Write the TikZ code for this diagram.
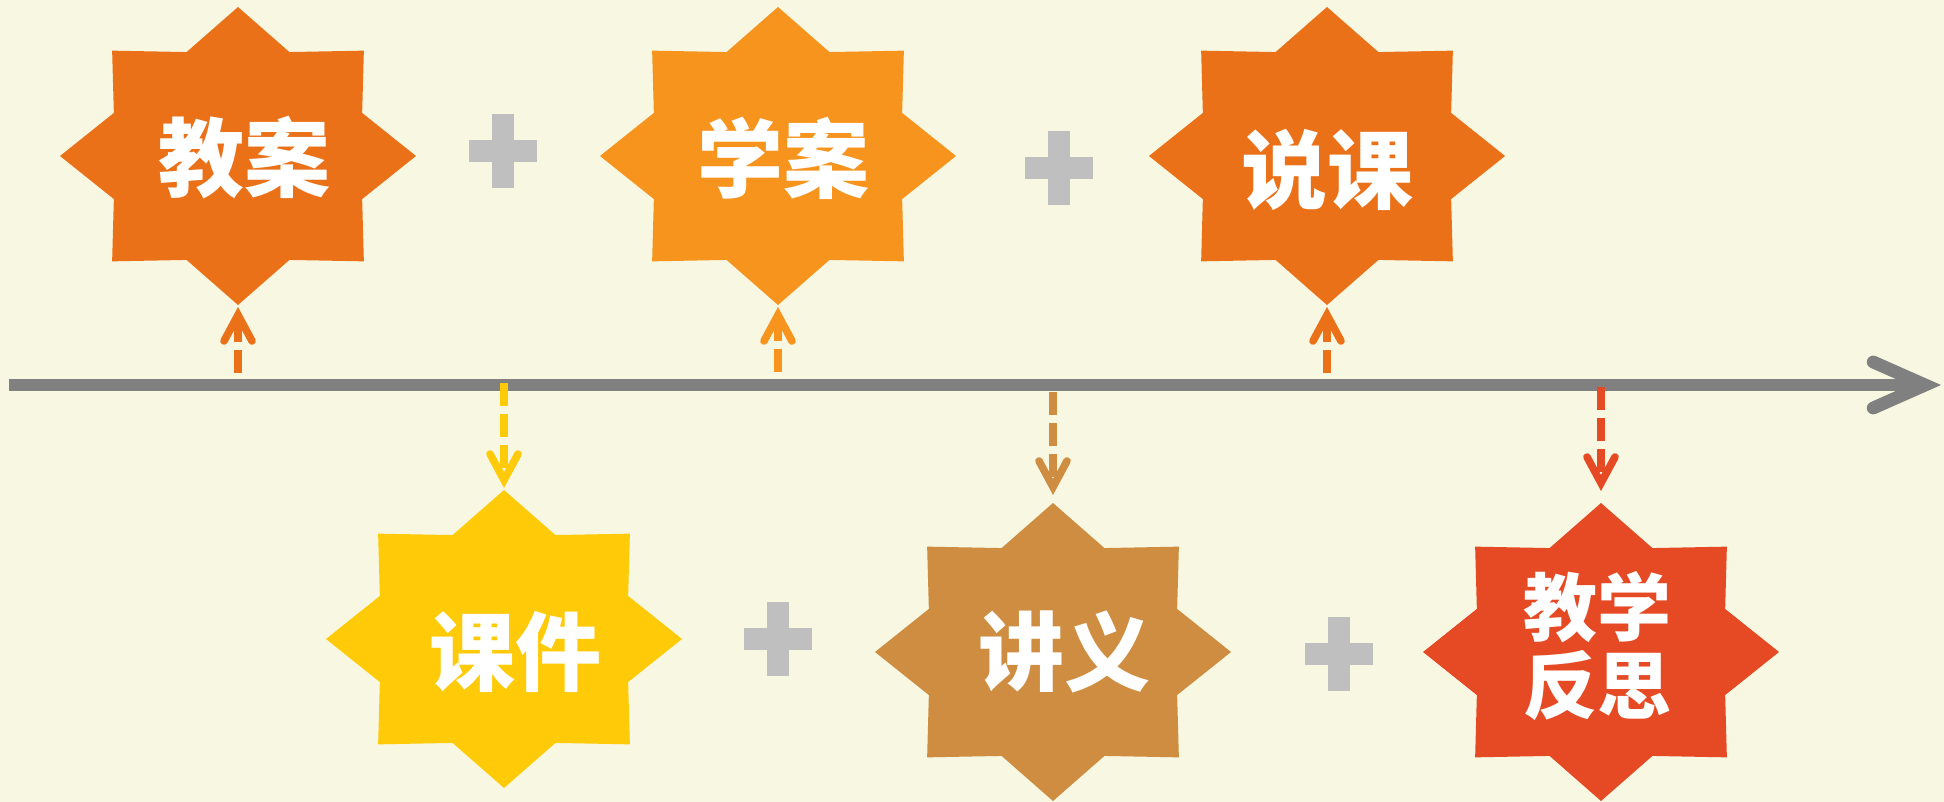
\documentclass[tikz,border=0pt]{standalone}
\usepackage{fontspec}
\newfontfamily\cjk{Noto Sans CJK SC}
\usetikzlibrary{arrows.meta}
\definecolor{bg}{HTML}{F8F7E2}
\definecolor{orA}{HTML}{EB7118}
\definecolor{orB}{HTML}{F7941E}
\definecolor{yel}{HTML}{FFCA08}
\definecolor{brn}{HTML}{CE8D40}
\definecolor{rdo}{HTML}{E54A24}
\definecolor{plusgray}{HTML}{BFBFBF}
\definecolor{axisgray}{HTML}{808080}
\newcommand{\octstar}[4]{%
  \fill[#4] (#2+178,#3) \foreach \i in {1,...,15}{ -- ({#2+178*(1-0.245*mod(\i,2))*cos(\i*22.5)},{#3+149*(1-0.245*mod(\i,2))*sin(\i*22.5)}) } -- cycle;
  \coordinate (#1-top) at (#2,#3-149);
  \coordinate (#1-bot) at (#2,#3+149);
}
\newcommand{\plussign}[2]{%
  \fill[plusgray] (#1-34,#2-11) rectangle (#1+34,#2+11);
  \fill[plusgray] (#1-11,#2-37) rectangle (#1+11,#2+37);
}
\begin{document}
\begin{tikzpicture}[x=0.5pt,y=-0.5pt,
  txt/.style={text=white, font=\cjk\bfseries\fontsize{43}{43}\selectfont, inner sep=0pt},
  txtsmall/.style={text=white, font=\cjk\bfseries\fontsize{37}{39}\selectfont, inner sep=0pt, align=center},
  conn/.style={line width=3.8pt, dash pattern=on 11.5pt off 4pt,
    -{Straight Barb[length=13pt,width=14pt,line cap=round,line join=miter]}},
  axisline/.style={line width=6.4pt, draw=axisgray,
    -{Straight Barb[length=26pt,width=23pt,line cap=round,line join=miter]}}
]
\useasboundingbox (0,0) rectangle (1944,802);
\fill[bg] (0,0) rectangle (1944,802);

% axis
\coordinate (ax0) at (9,385);
\coordinate (ax1) at (1941,385);
\draw[axisline] (ax0) -- (ax1);

% stars
\octstar{s1}{238}{156}{orA}
\octstar{s2}{778}{156}{orB}
\octstar{s3}{1327}{156}{orA}
\octstar{s4}{504}{639}{yel}
\octstar{s5}{1053}{652}{brn}
\octstar{s6}{1601}{652}{rdo}

% plus signs
\plussign{503}{151}
\plussign{1059}{168}
\plussign{778}{639}
\plussign{1339}{654}

% texts
\node[txt] (t1) at (244,158) {教案};
\node[txt] (t2) at (783,158) {学案};
\node[txt] (t3) at (1327,170) {说课};
\node[txt] (t4) at (515,652) {课件};
\node[txt] (t5) at (1064,652) {讲义};
\node[txtsmall] (t6) at (1597,646) {教学\\反思};

% connectors
\coordinate (u1) at (238,373);
\coordinate (u2) at (778,372);
\coordinate (u3) at (1327,373);
\coordinate (d1) at (504,383);
\coordinate (d2) at (1053,392);
\coordinate (d3) at (1601,387);
\draw[conn, orA, shorten >=1pt] (u1) -- (s1-bot);
\draw[conn, orB, shorten >=1pt] (u2) -- (s2-bot);
\draw[conn, orA, shorten >=1pt] (u3) -- (s3-bot);
\draw[conn, yel, shorten >=1pt] (d1) -- (s4-top);
\draw[conn, brn, shorten >=4pt] (d2) -- (s5-top);
\draw[conn, rdo, shorten >=6pt] (d3) -- (s6-top);
\end{tikzpicture}
\end{document}
